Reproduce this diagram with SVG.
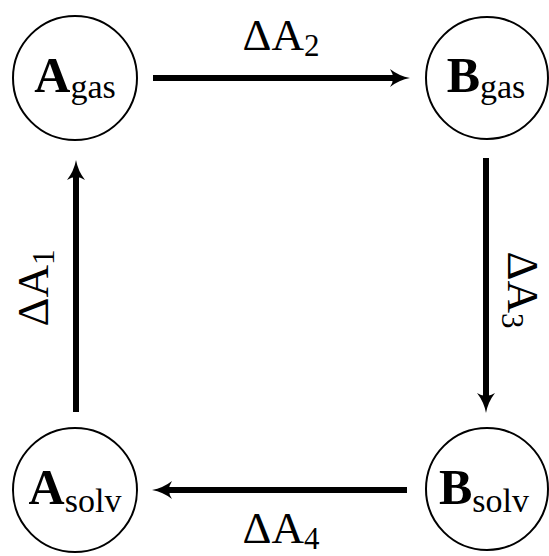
<svg xmlns="http://www.w3.org/2000/svg" width="549" height="556" viewBox="0 0 549 556">
  <style>
    .node { fill: #ffffff; stroke: #000000; stroke-width: 2; }
    .main { font-family: "Liberation Serif", "DejaVu Serif", "Noto Serif", serif; font-weight: bold; font-size: 50px; fill: #000; }
    .sub { font-weight: normal; font-size: 34px; }
    .lbl { font-family: "Liberation Serif", "DejaVu Serif", "Noto Serif", serif; font-size: 45px; fill: #000; }
    .lsub { font-size: 31px; }
    .conn { stroke: #000000; stroke-width: 6; fill: none; }
  </style>
  <defs>
    <marker id="head" markerUnits="userSpaceOnUse" viewBox="-12 -12 24 24" markerWidth="24" markerHeight="24" refX="0" refY="0" orient="auto">
      <path d="M 10 0 Q -1 -2 -10 -9 Q -4 0 -10 9 Q -1 2 10 0 Z" fill="#000"/>
    </marker>
  </defs>

  <g id="connectors">
    <line class="conn" x1="153" y1="78" x2="400" y2="78" marker-end="url(#head)"/>
    <line class="conn" x1="486" y1="158" x2="486" y2="403" marker-end="url(#head)"/>
    <line class="conn" x1="407" y1="490" x2="162" y2="490" marker-end="url(#head)"/>
    <line class="conn" x1="76" y1="412" x2="76" y2="170" marker-end="url(#head)"/>
    <text class="lbl" x="281" y="50" text-anchor="middle">ΔA<tspan class="lsub" dy="6">2</tspan></text>
    <text class="lbl" transform="translate(508,290) rotate(90)" text-anchor="middle" font-size="44">ΔA<tspan class="lsub" dy="6">3</tspan></text>
    <text class="lbl" x="281" y="543" text-anchor="middle">ΔA<tspan class="lsub" dy="6">4</tspan></text>
    <text class="lbl" transform="translate(48,288) rotate(-90)" text-anchor="middle">ΔA<tspan class="lsub" dy="6">1</tspan></text>
  </g>

  <g id="A_gas">
    <circle class="node" cx="75" cy="78" r="62"/>
    <text class="main" x="75" y="92" text-anchor="middle">A<tspan class="sub" dy="6">gas</tspan></text>
  </g>
  <g id="B_gas">
    <circle class="node" cx="487" cy="78" r="61"/>
    <text class="main" x="486" y="92" text-anchor="middle">B<tspan class="sub" dy="6">gas</tspan></text>
  </g>
  <g id="A_solv">
    <circle class="node" cx="75" cy="490" r="62"/>
    <text class="main" x="75" y="504" text-anchor="middle">A<tspan class="sub" dy="8">solv</tspan></text>
  </g>
  <g id="B_solv">
    <circle class="node" cx="487" cy="489" r="61"/>
    <text class="main" x="484" y="504" text-anchor="middle">B<tspan class="sub" dy="8">solv</tspan></text>
  </g>
</svg>
